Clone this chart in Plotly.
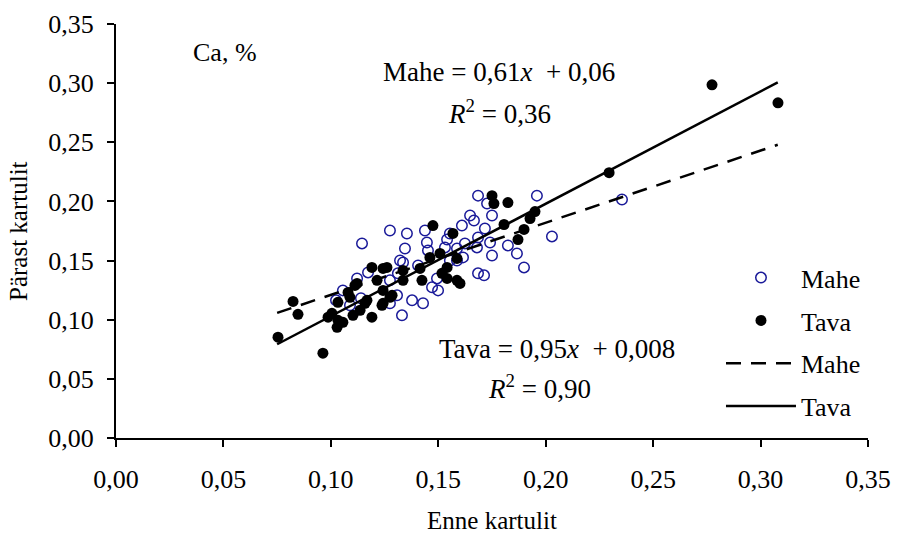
import plotly.graph_objects as go

# Mahe (open circles)
mahe_x = [0.1685, 0.1727, 0.1648, 0.1666, 0.1610, 0.1717, 0.1750, 0.1554, 0.1541, 0.1624,
          0.1685, 0.1741, 0.1824, 0.1680, 0.1587, 0.1531, 0.1438, 0.1447, 0.1354, 0.1275,
          0.1345, 0.1452, 0.1750, 0.1615, 0.1587, 0.1554, 0.1685, 0.1713, 0.1406, 0.1322,
          0.1312, 0.1471, 0.1499, 0.1429, 0.1378, 0.1331, 0.1275, 0.1959, 0.2355, 0.2029,
          0.1866, 0.1899, 0.1145, 0.1173, 0.1122, 0.1336, 0.1056, 0.1275, 0.1308, 0.1494,
          0.1089, 0.1024, 0.1140]
mahe_y = [0.2049, 0.1982, 0.1881, 0.1839, 0.1796, 0.1771, 0.1881, 0.1729, 0.1678, 0.1645,
          0.1695, 0.1653, 0.1628, 0.1611, 0.1602, 0.1611, 0.1754, 0.1653, 0.1729, 0.1754,
          0.1602, 0.1586, 0.1543, 0.1527, 0.1501, 0.1501, 0.1392, 0.1375, 0.1459, 0.1501,
          0.1392, 0.1274, 0.1248, 0.1139, 0.1164, 0.1037, 0.1139, 0.2049, 0.2016, 0.1704,
          0.1560, 0.1442, 0.1645, 0.1400, 0.1349, 0.1484, 0.1248, 0.1333, 0.1206, 0.1349,
          0.1122, 0.1164, 0.1181]

# Tava (filled circles)
tava_x = [0.0754, 0.0824, 0.0847, 0.0963, 0.1005, 0.1029, 0.1033, 0.0987, 0.1033, 0.1080,
          0.1112, 0.1103, 0.1159, 0.1191, 0.1191, 0.1243, 0.1243, 0.1122, 0.1089, 0.1168,
          0.1238, 0.1275, 0.1243, 0.1215, 0.1261, 0.1336, 0.1285, 0.1336, 0.1415, 0.1424,
          0.1461, 0.1508, 0.1541, 0.1517, 0.1587, 0.1601, 0.1587, 0.1475, 0.1568, 0.1541,
          0.1750, 0.1759, 0.1824, 0.1806, 0.1950, 0.1927, 0.1899, 0.1871, 0.2295, 0.2774,
          0.3081, 0.1056, 0.1136]
tava_y = [0.0852, 0.1155, 0.1046, 0.0717, 0.1054, 0.0936, 0.0995, 0.1021, 0.1147, 0.1231,
          0.1290, 0.1037, 0.1139, 0.1021, 0.1442, 0.1434, 0.1139, 0.1307, 0.1189, 0.1164,
          0.1122, 0.1189, 0.1248, 0.1333, 0.1442, 0.1417, 0.1206, 0.1333, 0.1434, 0.1333,
          0.1527, 0.1560, 0.1442, 0.1392, 0.1333, 0.1307, 0.1518, 0.1796, 0.1729, 0.1349,
          0.2049, 0.1982, 0.1990, 0.1805, 0.1914, 0.1855, 0.1763, 0.1678, 0.2243, 0.2986,
          0.2834, 0.0978, 0.1080]

# Trend lines (from the equations shown on the chart)
trend_x = [0.075, 0.308]
mahe_slope, mahe_icpt = 0.61, 0.06
tava_slope, tava_icpt = 0.95, 0.008
mahe_trend_y = [mahe_slope * v + mahe_icpt for v in trend_x]
tava_trend_y = [tava_slope * v + tava_icpt for v in trend_x]

x_ticks = [0, 0.05, 0.10, 0.15, 0.20, 0.25, 0.30, 0.35]
y_ticks = [0, 0.05, 0.10, 0.15, 0.20, 0.25, 0.30, 0.35]

FONT = "Liberation Serif"
BLUE = "#1a1a99"

fig = go.Figure()
fig.add_trace(go.Scatter(x=mahe_x, y=mahe_y, mode="markers", name="Mahe",
                         legendgroup="a",
                         marker=dict(symbol="circle-open", size=10.5, color=BLUE,
                                     line=dict(width=1.5, color=BLUE))))
fig.add_trace(go.Scatter(x=tava_x, y=tava_y, mode="markers", name="Tava",
                         legendgroup="b",
                         marker=dict(symbol="circle", size=11, color="black")))
fig.add_trace(go.Scatter(x=trend_x, y=mahe_trend_y, mode="lines", name="Mahe",
                         legendgroup="c",
                         line=dict(color="black", width=2.5, dash="15px,10px")))
fig.add_trace(go.Scatter(x=trend_x, y=tava_trend_y, mode="lines", name="Tava",
                         legendgroup="d",
                         line=dict(color="black", width=2.5)))

ann_font = dict(family=FONT, size=27, color="black")
fig.add_annotation(x=0.0505, y=0.3262, xref="x", yref="y", text="Ca, %",
                   showarrow=False, font=dict(family=FONT, size=26, color="black"))
fig.add_annotation(x=0.1783, y=0.3095, xref="x", yref="y",
                   text="Mahe = 0,61<i>x</i>  + 0,06", showarrow=False, font=ann_font)
fig.add_annotation(x=0.1783, y=0.2755, xref="x", yref="y",
                   text="<i>R</i><sup>2</sup> = 0,36", showarrow=False, font=ann_font)
fig.add_annotation(x=0.2053, y=0.0755, xref="x", yref="y",
                   text="Tava = 0,95<i>x</i>  + 0,008", showarrow=False, font=ann_font)
fig.add_annotation(x=0.1973, y=0.0435, xref="x", yref="y",
                   text="<i>R</i><sup>2</sup> = 0,90", showarrow=False, font=ann_font)
# y-axis title
fig.add_annotation(x=-0.1303, y=0.5, xref="paper", yref="paper",
                   text="Pärast kartulit", textangle=-90, showarrow=False,
                   xanchor="center", yanchor="middle",
                   font=dict(family=FONT, size=25, color="black"))

axis_common = dict(showline=True, linecolor="black", linewidth=2, ticks="outside",
                   ticklen=7, tickwidth=2, tickcolor="black", showgrid=False,
                   zeroline=False, tickformat=".2f", automargin=False,
                   tickfont=dict(family=FONT, size=26, color="black"))

fig.update_layout(
    width=897, height=538,
    margin=dict(l=116, r=29, t=24, b=100),
    paper_bgcolor="white", plot_bgcolor="white",
    separators=", ",
    font=dict(family=FONT, size=26, color="black"),
    xaxis=dict(range=[0, 0.35], tickvals=x_ticks, ticklabelstandoff=10,
               title=dict(text="Enne kartulit", standoff=18,
                          font=dict(family=FONT, size=25)),
               **axis_common),
    yaxis=dict(range=[0, 0.35], tickvals=y_ticks, ticklabelstandoff=8,
               **axis_common),
    legend=dict(x=0.8045, y=0.444, xanchor="left", yanchor="top",
                font=dict(family=FONT, size=26, color="black"),
                bgcolor="rgba(0,0,0,0)", tracegroupgap=6, traceorder="grouped",
                itemwidth=70),
    showlegend=True,
)

fig.write_html("out.html")
